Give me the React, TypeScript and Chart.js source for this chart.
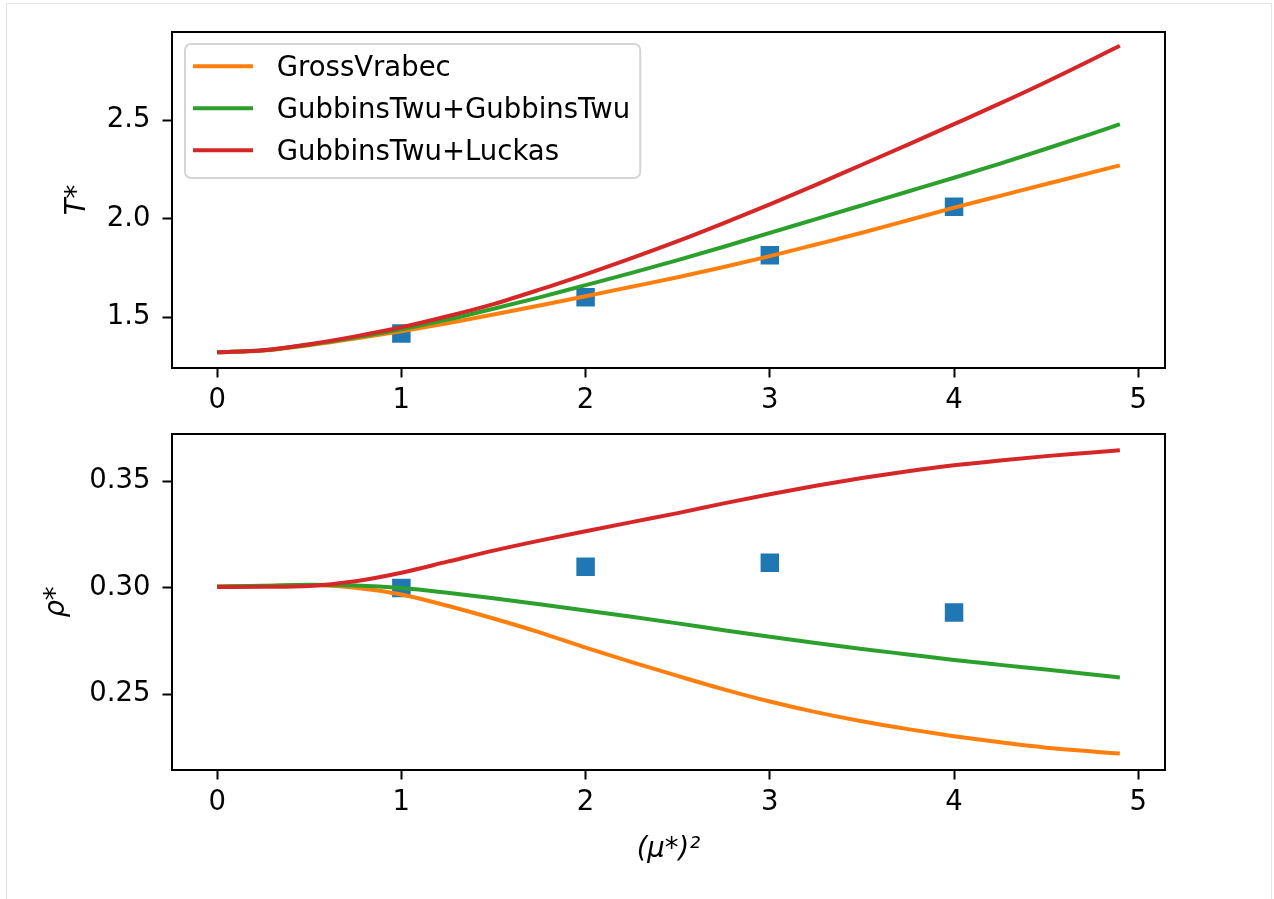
import React, { useEffect, useRef } from "react";
import { Chart, registerables } from "chart.js";

Chart.register(...registerables);

// ---------- data ----------
const xs = [0, 0.25, 0.5, 0.75, 1.0, 1.25, 1.5, 1.75, 2.0, 2.25, 2.5, 2.75, 3.0, 3.25, 3.5, 3.75, 4.0, 4.25, 4.5, 4.75, 4.9];

const grossVrabecT = [1.322, 1.331, 1.358, 1.392, 1.429, 1.470, 1.514, 1.560, 1.607, 1.655, 1.703, 1.755, 1.810, 1.869, 1.929, 1.992, 2.056, 2.116, 2.176, 2.235, 2.271];
const gtGtT = [1.322, 1.332, 1.361, 1.398, 1.439, 1.488, 1.543, 1.601, 1.663, 1.725, 1.790, 1.858, 1.928, 1.998, 2.068, 2.138, 2.208, 2.280, 2.355, 2.432, 2.480];
const gtLuckasT = [1.322, 1.332, 1.363, 1.403, 1.449, 1.505, 1.567, 1.640, 1.718, 1.800, 1.886, 1.978, 2.073, 2.172, 2.274, 2.376, 2.480, 2.585, 2.694, 2.808, 2.878];

const grossVrabecRho = [0.3005, 0.3008, 0.3012, 0.3000, 0.2968, 0.2915, 0.2855, 0.2790, 0.2718, 0.2650, 0.2585, 0.2522, 0.2465, 0.2415, 0.2372, 0.2335, 0.2302, 0.2273, 0.2248, 0.2230, 0.2220];
const gtGtRho = [0.3005, 0.3009, 0.3013, 0.3010, 0.2998, 0.2976, 0.2950, 0.2922, 0.2893, 0.2863, 0.2832, 0.2800, 0.2769, 0.2740, 0.2712, 0.2686, 0.2660, 0.2637, 0.2615, 0.2592, 0.2578];
const gtLuckasRho = [0.3003, 0.3004, 0.3008, 0.3030, 0.3070, 0.3122, 0.3174, 0.3221, 0.3265, 0.3308, 0.3350, 0.3396, 0.3439, 0.3479, 0.3515, 0.3547, 0.3575, 0.3598, 0.3618, 0.3635, 0.3646];

const simX = [1, 2, 3, 4];
const simT = [1.417, 1.602, 1.815, 2.061];
const simRho = [0.2998, 0.3098, 0.3117, 0.2883];

const seriesNames = ["GrossVrabec", "GubbinsTwu+GubbinsTwu", "GubbinsTwu+Luckas"];
const seriesColors = ["#ff7f0e", "#2ca02c", "#d62728"];
const markerColor = "#1f77b4";

const xTicks = [0, 1, 2, 3, 4, 5];
const tTicks = [1.5, 2.0, 2.5];
const rhoTicks = [0.25, 0.3, 0.35];

const xRange = [-0.245, 5.145];
const tRange = [1.2425, 2.9475];
const rhoRange = [0.2143, 0.3722];

// ---------- styling ----------
const FONT = "'DejaVu Sans', sans-serif";
const FS = 27.5;
const W = 1274;
const PLOT_LEFT = 172;
const PLOT_RIGHT = 1165;

const pts = (x: number[], y: number[]) => x.map((v, i) => ({ x: v, y: y[i] }));

const framePlugin = {
  id: "frameBox",
  afterDraw(chart: any) {
    const { ctx, chartArea: a } = chart;
    ctx.save();
    ctx.strokeStyle = "#000";
    ctx.lineWidth = 2;
    ctx.strokeRect(a.left, a.top, a.right - a.left, a.bottom - a.top);
    ctx.restore();
  },
};

const LEG_PAD = 14.5;
const LEG_X = 193;
const LEG_Y = 55.5;

const legendPlugin = {
  id: "legendPlace",
  afterLayout(chart: any) {
    const lg = chart.legend;
    if (!lg || !lg.options.display) return;
    lg.left = LEG_X - LEG_PAD;
    lg.top = LEG_Y - LEG_PAD;
    lg.bottom = lg.top + 400;
  },
  beforeDraw(chart: any) {
    const lg = chart.legend;
    if (!lg || !lg.options.display) return;
    const ctx = chart.ctx;
    ctx.save();
    ctx.font = `${FS}px ${FONT}`;
    let maxW = 0;
    for (const n of seriesNames) maxW = Math.max(maxW, ctx.measureText(n).width);
    const n = seriesNames.length;
    const left = LEG_X - 8;
    const top = 44;
    const right = LEG_X + 70 + FS / 2 + maxW + 10;
    const bottom = LEG_Y + (n - 1) * (FS + LEG_PAD) + FS + 11;
    const r = 6;
    ctx.beginPath();
    ctx.moveTo(left + r, top);
    ctx.lineTo(right - r, top);
    ctx.arcTo(right, top, right, top + r, r);
    ctx.lineTo(right, bottom - r);
    ctx.arcTo(right, bottom, right - r, bottom, r);
    ctx.lineTo(left + r, bottom);
    ctx.arcTo(left, bottom, left, bottom - r, r);
    ctx.lineTo(left, top + r);
    ctx.arcTo(left, top, left + r, top, r);
    ctx.closePath();
    ctx.fillStyle = "rgba(255,255,255,0.8)";
    ctx.fill();
    ctx.strokeStyle = "#d5d5d5";
    ctx.lineWidth = 2;
    ctx.stroke();
    ctx.restore();
  },
};

function zeroPad(s: any) {
  s.paddingTop = 0;
  s.paddingBottom = 0;
  s.paddingLeft = 0;
  s.paddingRight = 0;
}

function makeChart(
  canvas: HTMLCanvasElement,
  opts: {
    padTop: number;
    xAxisHeight: number;
    curves: number[][];
    markers: number[];
    yRange: number[];
    yTicks: number[];
    yDec: number;
    yTitle: string;
    yTitlePad: number;
    xTitle?: string;
    legend: boolean;
  }
) {
  const lineSets = opts.curves.map((c, i) => ({
    type: "line" as const,
    label: seriesNames[i],
    data: pts(xs, c),
    borderColor: seriesColors[i],
    backgroundColor: seriesColors[i],
    borderWidth: 4,
    pointRadius: 0,
    cubicInterpolationMode: "monotone" as const,
    fill: false,
    order: 3 - i,
  }));
  const markerSet = {
    type: "scatter" as const,
    label: "sim",
    data: pts(simX, opts.markers),
    pointStyle: "rect",
    pointRadius: 11.3,
    pointBorderWidth: 2.5,
    pointBackgroundColor: markerColor,
    pointBorderColor: markerColor,
    backgroundColor: markerColor,
    borderColor: markerColor,
    showLine: false,
    order: 10,
  };

  return new Chart(canvas, {
    type: "line",
    data: { datasets: [...lineSets, markerSet] as any },
    plugins: [framePlugin, legendPlugin],
    options: {
      responsive: false,
      animation: false,
      devicePixelRatio: 1,
      events: [],
      layout: { padding: { top: opts.padTop, right: W - PLOT_RIGHT, bottom: 0, left: 0 } },
      plugins: {
        tooltip: { enabled: false },
        title: { display: false },
        legend: {
          display: opts.legend,
          position: "chartArea",
          align: "start",
          labels: {
            color: "#000",
            font: { family: FONT, size: FS },
            padding: LEG_PAD,
            boxWidth: 70,
            boxHeight: 6,
            generateLabels: () =>
              seriesNames.map((name, i) => ({
                text: name,
                fillStyle: "rgba(0,0,0,0)",
                strokeStyle: seriesColors[i],
                lineWidth: 4,
                lineDash: [60, 1000],
                lineCap: "butt",
                hidden: false,
                datasetIndex: i,
                fontColor: "#000",
              })),
          },
        },
      },
      scales: {
        x: {
          type: "linear",
          position: "bottom",
          min: xRange[0],
          max: xRange[1],
          afterBuildTicks: (s: any) => {
            s.ticks = xTicks.map((v) => ({ value: v }));
          },
          afterFit: (s: any) => {
            s.height = opts.xAxisHeight;
            zeroPad(s);
          },
          ticks: {
            color: "#000",
            font: { family: FONT, size: FS },
            padding: 7,
            maxRotation: 0,
            autoSkip: false,
            callback: (v: any) => String(Math.round(Number(v))),
          },
          grid: {
            display: true,
            drawOnChartArea: false,
            drawTicks: true,
            tickLength: 9.5,
            tickWidth: 2,
            tickColor: "#000",
          },
          border: { display: false },
          title: {
            display: !!opts.xTitle,
            text: opts.xTitle || "",
            color: "#000",
            font: { family: FONT, size: FS, style: "italic" },
            padding: { top: 0, bottom: 33 },
          },
        },
        y: {
          type: "linear",
          position: "left",
          min: opts.yRange[0],
          max: opts.yRange[1],
          afterBuildTicks: (s: any) => {
            s.ticks = opts.yTicks.map((v) => ({ value: v }));
          },
          afterFit: (s: any) => {
            s.width = PLOT_LEFT;
            zeroPad(s);
          },
          ticks: {
            color: "#000",
            font: { family: FONT, size: FS },
            padding: 12,
            autoSkip: false,
            callback: (v: any) => Number(v).toFixed(opts.yDec),
          },
          grid: {
            display: true,
            drawOnChartArea: false,
            drawTicks: true,
            tickLength: 9.5,
            tickWidth: 2,
            tickColor: "#000",
          },
          border: { display: false },
          title: {
            display: true,
            text: opts.yTitle,
            color: "#000",
            font: { family: FONT, size: FS, style: "italic" },
            padding: { top: opts.yTitlePad, bottom: 0 },
          },
        },
      },
    } as any,
  });
}

export default function App() {
  const topRef = useRef<HTMLCanvasElement>(null);
  const botRef = useRef<HTMLCanvasElement>(null);

  useEffect(() => {
    const c1 = makeChart(topRef.current!, {
      padTop: 32,
      xAxisHeight: 420 - 368,
      curves: [grossVrabecT, gtGtT, gtLuckasT],
      markers: simT,
      yRange: tRange,
      yTicks: tTicks,
      yDec: 1,
      yTitle: "T*",
      yTitlePad: 61,
      legend: true,
    });
    const c2 = makeChart(botRef.current!, {
      padTop: 14,
      xAxisHeight: 479 - 350,
      curves: [grossVrabecRho, gtGtRho, gtLuckasRho],
      markers: simRho,
      yRange: rhoRange,
      yTicks: rhoTicks,
      yDec: 2,
      yTitle: "ρ*",
      yTitlePad: 40,
      xTitle: "(μ*)²",
      legend: false,
    });
    return () => {
      c1.destroy();
      c2.destroy();
    };
  }, []);

  return (
    <div
      style={{
        position: "absolute",
        left: 0,
        top: 0,
        width: W,
        height: 899,
        overflow: "hidden",
        background: "#fff",
      }}
    >
      <div
        style={{
          position: "absolute",
          left: 6,
          top: 3,
          width: 1266,
          height: 1000,
          boxSizing: "border-box",
          border: "1px solid #e3e3e3",
        }}
      />
      <canvas ref={topRef} width={W} height={420} style={{ position: "absolute", left: 0, top: 0 }} />
      <canvas ref={botRef} width={W} height={479} style={{ position: "absolute", left: 0, top: 420 }} />
    </div>
  );
}
